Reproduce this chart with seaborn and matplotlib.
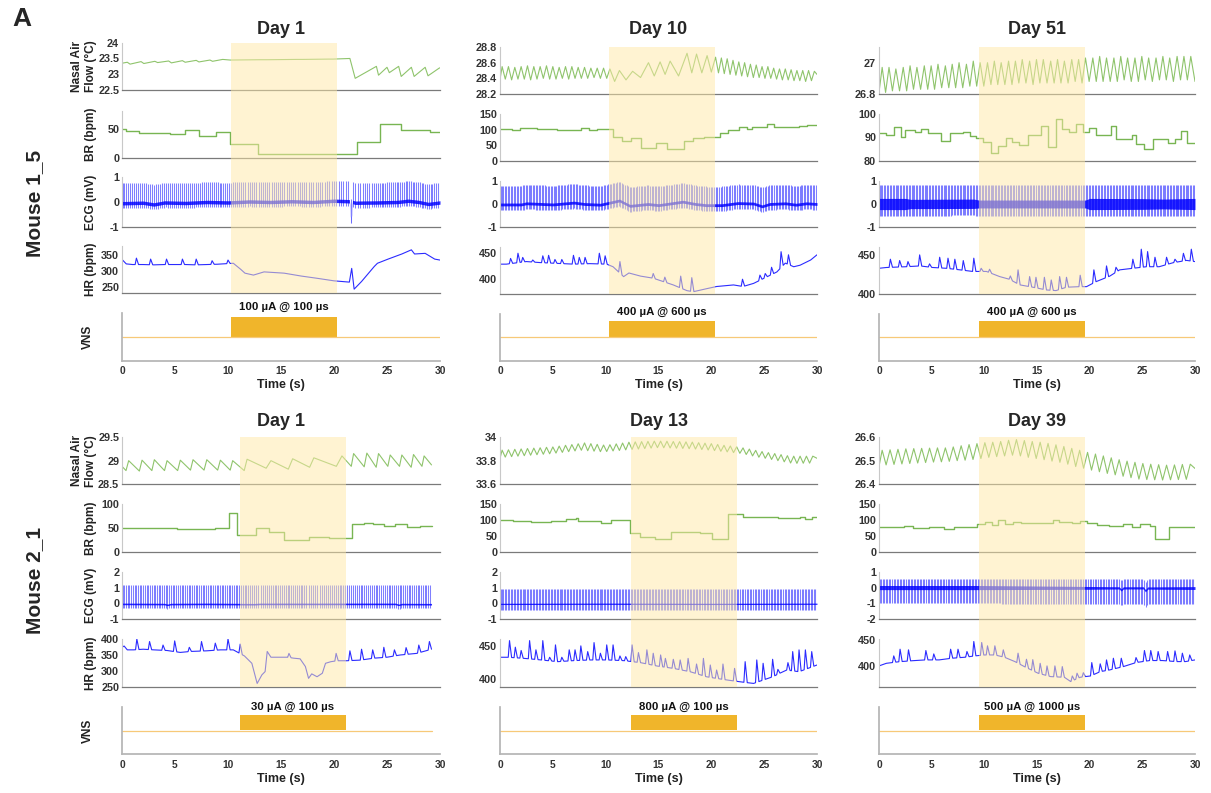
import numpy as np
import matplotlib
matplotlib.use("Agg")
import matplotlib.pyplot as plt
import seaborn as sns

# ==============================================================================
# 1. TRACES (time in seconds)
# ==============================================================================
# airflow: peak times / peak values / trough value just before each peak
# HR: slow trend + breathing spikes,  ECG: baseline centre + band half width

# ---- Mouse 1_5, Day 1 --------------------------------------------------------
m15_d1_stim = [10.25, 20.3]
m15_d1_air_pt = [0.5, 1.8, 3.1, 4.4, 5.7, 7.0, 8.3, 9.5, 13.0, 16.5, 19.5, 21.5,
                 24.0, 25.0, 26.1, 27.3, 28.6, 29.95]
m15_d1_air_pk = [23.38, 23.40, 23.41, 23.42, 23.43, 23.44, 23.45, 23.47, 23.46, 23.47,
                 23.48, 23.50, 23.25, 23.22, 23.25, 23.22, 23.22, 23.20]
m15_d1_air_tr = [23.35, 23.32, 23.34, 23.37, 23.36, 23.38, 23.39, 23.41, 23.45, 23.46,
                 23.47, 23.48, 22.87, 22.97, 23.05, 22.93, 22.93, 22.95]
m15_d1_air_ends = [23.42, 23.2]
m15_d1_br_t = [0, 0.4, 1.6, 4.5, 5.95, 7.3, 8.85, 10.2, 12.85, 22.15, 24.3, 26.35, 29.1, 30]
m15_d1_br_v = [49, 46, 43, 41.5, 47, 38, 44, 24, 6, 27, 58.5, 48, 44, 44]
m15_d1_hr_t = [0, 0.4, 1.0, 2.0, 3.0, 4.0, 5.0, 6.0, 7.0, 8.0, 9.0, 10.0, 10.5, 11.2, 11.6,
               12.4, 13.4, 15.3, 16.9, 18.4, 20.0, 21.45, 21.67, 21.9, 22.6, 23.8, 24.1,
               25.1, 26.4, 27.3, 27.6, 28.6, 29.5, 30]
m15_d1_hr_v = [337, 323, 321, 321, 320, 321, 321, 321, 320, 321, 322, 324, 325, 306, 294,
               288, 298, 294, 285, 278, 270, 266, 309, 244, 268, 315, 325,
               338, 354, 367, 354, 356, 338, 335]
m15_d1_hr_spk_t = [1.36, 2.7, 4.2, 5.7, 7.0, 8.5, 10.0]
m15_d1_hr_spk_v = [341, 338, 338, 338, 338, 333, 335]
m15_d1_ecg_t = [0, 2, 3, 4, 6, 8, 10, 12, 14, 16, 18, 20, 21.45, 21.6, 21.75, 22, 24, 26,
                27, 28, 28.9, 30]
m15_d1_ecg_v = [-0.05, -0.03, -0.1, -0.02, -0.04, 0.0, -0.02, 0.02, 0.0, 0.03, 0.0, 0.05,
                0.03, -0.85, 0.0, -0.03, -0.02, 0.0, 0.05, 0.0, -0.08, -0.02]
m15_d1_ecg_w = [0.07, 0.07, 0.07, 0.07, 0.07, 0.07, 0.07, 0.07, 0.07, 0.07, 0.07, 0.07,
                0.07, 0.02, 0.07, 0.07, 0.07, 0.07, 0.07, 0.07, 0.07, 0.07]
m15_d1_ecg_amp = [0.8, -0.2]

# ---- Mouse 1_5, Day 10 -------------------------------------------------------
m15_d10_stim = [10.3, 20.3]
m15_d10_air_pt = [0.2, 0.8, 1.4, 2.0, 2.6, 3.2, 3.8, 4.4, 5.0, 5.6, 6.2, 6.8, 7.4, 8.0, 8.6,
                  9.2, 9.8, 10.4, 11.3, 12.55, 14.05, 15.15, 16.1, 17.7, 18.6, 19.6, 20.4,
                  20.95, 21.5, 22.05, 22.6, 23.15, 23.7, 24.25, 24.8, 25.35, 25.9, 26.45,
                  27.0, 27.55, 28.1, 28.65, 29.2, 29.75]
m15_d10_air_pk = [28.55, 28.55, 28.54, 28.55, 28.56, 28.55, 28.55, 28.56, 28.55, 28.54,
                  28.55, 28.55, 28.54, 28.54, 28.53, 28.53, 28.53, 28.52, 28.50, 28.49,
                  28.60, 28.61, 28.62, 28.72, 28.71, 28.69, 28.67, 28.66, 28.65, 28.63,
                  28.61, 28.60, 28.58, 28.57, 28.55, 28.55, 28.53, 28.52, 28.52, 28.51,
                  28.50, 28.50, 28.50, 28.49]
m15_d10_air_tr = [28.40, 28.39, 28.38, 28.39, 28.39, 28.38, 28.39, 28.40, 28.39, 28.39,
                  28.40, 28.39, 28.40, 28.40, 28.40, 28.41, 28.40, 28.40, 28.36, 28.38,
                  28.41, 28.43, 28.45, 28.43, 28.47, 28.47, 28.48, 28.47, 28.46, 28.45,
                  28.44, 28.43, 28.42, 28.41, 28.41, 28.40, 28.40, 28.39, 28.38, 28.38,
                  28.37, 28.37, 28.36, 28.37]
m15_d10_air_ends = [28.47, 28.45]
m15_d10_br_t = [0, 1.1, 1.9, 3.5, 5.4, 7.3, 7.7, 8.4, 9.2, 10.7, 11.5, 12.4, 13.3, 14.8,
                15.85, 17.4, 18.3, 19.3, 20.8, 21.6, 22.6, 23.4, 23.85, 25.3, 25.9, 28.3,
                29.05, 30]
m15_d10_br_v = [103, 99, 104, 102, 100, 97.5, 104, 99, 102, 75, 63, 74, 41, 58, 36, 64, 72,
                77, 90, 99, 107, 101, 109, 118, 109, 111, 116, 116]
m15_d10_hr_t = [0, 0.6, 2.5, 3.8, 7.0, 8.5, 10.1, 10.7, 11.7, 12.2, 13.3, 14.5, 16.4, 17.7,
                18.3, 19.6, 20.5, 22.1, 23.0, 24.0, 25.3, 26.2, 27.0, 27.8, 28.4, 29.4, 30]
m15_d10_hr_v = [428, 428, 433, 431, 428, 429, 428, 423, 404, 411, 405, 401, 388, 377,
                375, 381, 385, 388, 385, 391, 404, 413, 430, 423, 426, 436, 446]
m15_d10_hr_spk_t = [1.0, 1.7, 2.15, 3.1, 4.05, 4.6, 5.2, 5.85, 6.95, 7.5, 8.05, 9.4, 9.95,
                    11.35, 14.5, 15.6, 17.1, 18.15, 22.95, 24.6, 25.1, 25.7, 26.6, 27.3]
m15_d10_hr_spk_v = [439, 449, 441, 436, 444, 445, 437, 437, 445, 441, 441, 449, 444,
                    433, 410, 403, 405, 402, 399, 407, 410, 422, 452, 446]
m15_d10_ecg_t = [0, 2, 2.5, 4, 5, 7, 8, 9.5, 11.3, 12.3, 14, 15, 17.3, 18.5, 19.5, 21, 22.5,
                 24, 24.8, 25.5, 27, 28, 29, 30]
m15_d10_ecg_v = [-0.02, -0.02, 0.03, 0.0, -0.02, 0.06, 0.0, -0.03, 0.15, -0.08, 0.0,
                 -0.05, 0.1, 0.0, -0.05, -0.05, 0.04, 0.02, -0.1, 0.0, 0.03, -0.03, 0.03, 0.0]
m15_d10_ecg_w = [0.06, 0.06, 0.06, 0.06, 0.06, 0.06, 0.06, 0.06, 0.06, 0.06, 0.06, 0.06,
                 0.06, 0.06, 0.06, 0.06, 0.06, 0.06, 0.06, 0.06, 0.06, 0.06, 0.06, 0.06]
m15_d10_ecg_amp = [0.8, -0.25]

# ---- Mouse 1_5, Day 51 -------------------------------------------------------
m15_d51_stim = [9.5, 19.6]
m15_d51_air_pt = [0.3, 0.95, 1.6, 2.3, 2.95, 3.6, 4.3, 4.95, 5.6, 6.3, 6.95, 7.6, 8.3, 8.95,
                  9.6, 10.3, 10.95, 11.6, 12.3, 12.95, 13.6, 14.3, 14.95, 15.6, 16.3, 16.95,
                  17.6, 18.3, 18.95, 19.6, 20.3, 20.95, 21.6, 22.3, 22.95, 23.6, 24.3, 24.95,
                  25.6, 26.3, 26.95, 27.6, 28.3, 28.95, 29.6]
m15_d51_air_pk = [26.97, 26.97, 26.96, 26.97, 26.98, 26.97, 26.98, 26.98, 26.99, 26.98,
                  26.99, 27.0, 26.99, 27.01, 27.0, 27.0, 27.01, 27.0, 27.01, 27.01, 27.02,
                  27.01, 27.02, 27.02, 27.01, 27.02, 27.01, 27.02, 27.02, 27.03, 27.03,
                  27.04, 27.03, 27.03, 27.04, 27.03, 27.03, 27.04, 27.03, 27.03, 27.04,
                  27.03, 27.04, 27.04, 27.04]
m15_d51_air_tr = [26.82, 26.81, 26.82, 26.82, 26.82, 26.83, 26.83, 26.83, 26.83, 26.84,
                  26.84, 26.84, 26.84, 26.85, 26.85, 26.85, 26.86, 26.86, 26.86, 26.86,
                  26.87, 26.87, 26.86, 26.87, 26.87, 26.87, 26.87, 26.87, 26.88, 26.87,
                  26.88, 26.88, 26.88, 26.88, 26.88, 26.89, 26.88, 26.88, 26.89, 26.88,
                  26.89, 26.89, 26.88, 26.89, 26.89]
m15_d51_air_ends = [26.9, 26.88]
m15_d51_br_t = [0, 0.7, 1.4, 2.05, 2.5, 3.4, 4.0, 4.65, 5.9, 6.7, 8.0, 8.6, 9.25, 9.9, 10.6,
                11.3, 12.1, 12.65, 13.3, 14.15, 15.4, 16.05, 16.8, 17.4, 18.0, 18.7, 19.4,
                19.95, 20.6, 22.0, 22.5, 23.2, 24.0, 24.4, 25.2, 26.0, 27.4, 28.1, 28.7,
                29.2, 30]
m15_d51_br_v = [91.7, 90.9, 94.5, 90.2, 93.1, 92.4, 93.4, 91.7, 88.5, 91.7, 92.1, 90.6,
                89.9, 88.1, 83.5, 86.3, 89.9, 88.2, 86.6, 91.2, 94.8, 85.9, 97.7, 93.5,
                92.2, 95.7, 92.4, 94.2, 90.9, 94.8, 89.1, 89.5, 90.9, 87.3, 84.9, 89.5,
                87.6, 89.5, 92.7, 87.6, 87.6]
m15_d51_hr_t = [0, 0.7, 2.6, 3.9, 5.1, 6.4, 7.7, 8.9, 10.2, 11.45, 12.4, 13.35, 14.6, 15.9,
                16.8, 17.8, 19.05, 19.7, 20.6, 21.9, 22.85, 24.1, 25.4, 26.6, 27.9, 29.2, 30]
m15_d51_hr_v = [433, 434, 435, 436, 434, 433, 431, 429, 429, 422.5, 419, 412, 409, 405.5,
                404.7, 409, 409.7, 409.7, 416, 423, 431, 433, 435, 435, 440, 443, 441.5]
m15_d51_hr_spk_t = [1.08, 1.96, 2.75, 3.86, 4.8, 5.76, 6.55, 7.2, 8.0, 9.0, 9.7, 10.5,
                    12.47, 13.2, 14.3, 14.9, 15.7, 16.35, 17.15, 17.8, 19.1, 20.4, 21.6,
                    22.5, 24.1, 24.9, 25.5, 26.2, 27.3, 28.1, 28.9, 29.65]
m15_d51_hr_spk_v = [444.5, 442.8, 441.5, 450, 438.6, 447, 445.8, 444.5, 442.8, 445.8, 433,
                    431.8, 423.3, 431, 422.5, 421.6, 421.6, 418.2, 422.5, 421.6, 424.2, 431,
                    436, 434.3, 444.5, 457.2, 454.2, 447, 447, 444.5, 452, 457.2]
m15_d51_ecg_t = [0, 2.5, 3, 9, 9.5, 19.6, 20, 25, 27, 30]
m15_d51_ecg_v = [0.0, 0.0, 0.0, 0.01, 0.0, 0.0, 0.0, 0.0, 0.0, 0.0]
m15_d51_ecg_w = [0.24, 0.24, 0.2, 0.2, 0.17, 0.17, 0.24, 0.23, 0.21, 0.24]
m15_d51_ecg_amp = [0.8, -0.5]

# ---- Mouse 2_1, Day 1 --------------------------------------------------------
m21_d1_stim = [11.1, 21.1]
m21_d1_air_pt = [0.63, 1.89, 3.05, 4.25, 5.5, 6.7, 8.0, 9.28, 10.44, 11.8, 14.05, 16.1,
                 18.1, 20.75, 21.85, 23.1, 24.2, 25.3, 26.4, 27.5, 28.5]
m21_d1_air_pk = [29.0, 29.01, 29.02, 29.0, 29.01, 29.02, 29.02, 29.01, 29.0, 29.03, 29.0,
                 29.04, 29.06, 29.1, 29.15, 29.16, 29.15, 29.12, 29.12, 29.13, 29.1]
m21_d1_air_tr = [28.79, 28.78, 28.79, 28.79, 28.79, 28.8, 28.8, 28.8, 28.8, 28.79, 28.84,
                 28.82, 28.86, 28.88, 28.88, 28.87, 28.86, 28.88, 28.88, 28.86, 28.88]
m21_d1_air_ends = [28.88, 28.91]
m21_d1_br_t = [0, 2.5, 5.2, 7.55, 8.8, 10.1, 10.85, 12.6, 13.85, 15.25, 17.6, 19.5, 21.7,
               22.8, 23.7, 24.7, 25.8, 26.9, 28.1, 29.2]
m21_d1_br_v = [49.3, 50.7, 47.2, 47.9, 49.3, 82.4, 35.2, 49.3, 42.3, 24.6, 31.7, 29.6,
               58.5, 61.3, 58.5, 54.2, 57.7, 52.8, 55, 55]
m21_d1_hr_t = [0, 0.2, 0.5, 1.1, 2.0, 3.0, 4.25, 5.5, 6.45, 8.0, 9.3, 10.5, 11.55, 12.25,
               12.75, 13.2, 13.5, 13.7, 14.05, 14.9, 15.6, 16.2, 16.8, 17.3, 17.6, 17.9,
               18.4, 18.9, 19.2, 19.7, 20.3, 21.2, 22.5, 23.75, 25.0, 26.25, 27.8, 29.2]
m21_d1_hr_v = [375, 379, 367, 367, 369, 367, 365, 359, 362, 364, 367, 367, 348, 325,
               262, 289, 299, 362, 344, 344, 344, 341, 339, 315, 278, 292,
               283, 294, 325, 330, 333, 333, 335, 341, 344, 351, 356, 369]
m21_d1_hr_spk_t = [1.4, 2.6, 3.87, 4.97, 6.35, 7.5, 8.8, 10.0, 11.15, 15.75, 20.2, 21.5,
                   22.6, 23.65, 24.7, 25.7, 26.8, 28.0, 29.0]
m21_d1_hr_spk_v = [401, 393, 382, 395, 375, 393, 388, 401, 385, 356, 356, 364, 369, 367,
                   375, 367, 374, 382, 393]
m21_d1_ecg_t = [0, 4, 4.3, 4.6, 8, 12.5, 13, 20, 25.8, 26.1, 26.4, 29.2]
m21_d1_ecg_v = [-0.03, -0.04, -0.09, -0.04, -0.03, -0.05, -0.03, -0.03, -0.03, -0.09,
                -0.04, -0.05]
m21_d1_ecg_w = [0.05, 0.05, 0.05, 0.05, 0.05, 0.05, 0.05, 0.05, 0.05, 0.05, 0.05, 0.05]
m21_d1_ecg_amp = [1.22, -0.25]

# ---- Mouse 2_1, Day 13 -------------------------------------------------------
m21_d13_stim = [12.4, 22.4]
m21_d13_air_pt = [0.2, 0.8, 1.4, 2.0, 2.6, 3.2, 3.8, 4.4, 5.0, 5.6, 6.2, 6.8, 7.4, 8.0, 8.6,
                  9.2, 9.8, 10.4, 11.0, 11.6, 12.2, 12.8, 13.4, 14.0, 14.6, 15.2, 15.8,
                  16.4, 17.0, 17.6, 18.2, 18.8, 19.4, 20.0, 20.6, 21.2, 21.8, 22.4, 23.0,
                  23.6, 24.2, 24.8, 25.4, 26.0, 26.6, 27.2, 27.8, 28.4, 29.0, 29.6]
m21_d13_air_pk = [33.889, 33.892, 33.896, 33.899, 33.903, 33.906, 33.909, 33.913, 33.916,
                  33.923, 33.930, 33.936, 33.943, 33.950, 33.944, 33.938, 33.932, 33.935,
                  33.942, 33.949, 33.956, 33.959, 33.961, 33.963, 33.965, 33.965, 33.964,
                  33.962, 33.961, 33.959, 33.957, 33.952, 33.948, 33.944, 33.937, 33.930,
                  33.924, 33.917, 33.908, 33.898, 33.887, 33.877, 33.868, 33.860, 33.851,
                  33.842, 33.838, 33.838, 33.838, 33.838]
m21_d13_air_tr = [33.826, 33.830, 33.834, 33.838, 33.842, 33.846, 33.850, 33.854, 33.858,
                  33.864, 33.870, 33.876, 33.882, 33.888, 33.884, 33.880, 33.876, 33.877,
                  33.882, 33.886, 33.891, 33.895, 33.898, 33.902, 33.906, 33.910, 33.909,
                  33.907, 33.905, 33.903, 33.901, 33.898, 33.894, 33.890, 33.885, 33.879,
                  33.874, 33.868, 33.862, 33.852, 33.840, 33.829, 33.820, 33.810, 33.800,
                  33.790, 33.780, 33.777, 33.778, 33.779]
m21_d13_air_ends = [33.84, 33.82]
m21_d13_br_t = [0, 1.2, 2.9, 4.8, 6.25, 7.2, 7.35, 9.55, 10.5, 12.3, 13.25, 14.7, 16.2,
                18.9, 20.05, 21.6, 23.0, 24.3, 26.3, 28.4, 28.9, 29.5, 30]
m21_d13_br_v = [100, 98, 95, 98, 102, 106, 98, 92, 100, 58, 45, 40, 62, 60, 40, 119, 109,
                109, 106, 109, 103.5, 111, 111]
m21_d13_hr_t = [0, 0.75, 2.3, 3.9, 5.45, 7.0, 8.6, 10.15, 11.7, 13.3, 14.85, 16.4, 18.0,
                19.55, 21.1, 22.7, 24.0, 24.9, 25.8, 27.1, 28.3, 30]
m21_d13_hr_v = [432.7, 432.7, 431, 428.6, 426, 427.6, 428.6, 428.6, 427.6, 424.5, 419.4,
                415.8, 410.7, 403, 399, 395.4, 392.9, 398, 403, 413.3, 410.7, 420.9]
m21_d13_hr_spk_t = [0.9, 1.45, 2.0, 2.8, 3.4, 4.05, 4.7, 5.25, 5.85, 6.55, 7.1, 7.65, 8.3,
                    8.9, 9.5, 10.1, 10.7, 11.35, 11.9, 12.5, 13.1, 13.9, 14.5, 15.2, 15.65,
                    16.4, 17.05, 17.8, 18.6, 19.25, 19.9, 20.5, 21.1, 22.2, 23.2, 24.3,
                    24.9, 25.8, 26.3, 27.25, 27.7, 28.3, 28.9, 29.5]
m21_d13_hr_spk_v = [458, 448, 443, 458, 444, 458, 432.7, 451.5, 432.7, 444, 444, 450,
                    441.3, 455, 438.8, 451.5, 451.5, 434.7, 433.7, 451.5, 439.8, 444,
                    438.8, 436.2, 431, 429.6, 428.6, 431, 422.4, 431, 420.9, 413.3, 422.4,
                    415.8, 426, 428.6, 423.5, 429.6, 414.3, 424.5, 441.3, 443.9, 443.9,
                    441.3]
m21_d13_ecg_t = [0, 10, 20, 30]
m21_d13_ecg_v = [-0.03, -0.02, -0.03, -0.02]
m21_d13_ecg_w = [0.04, 0.04, 0.04, 0.04]
m21_d13_ecg_amp = [0.95, -0.38]

# ---- Mouse 2_1, Day 39 -------------------------------------------------------
m21_d39_stim = [9.5, 19.6]
m21_d39_air_pt = [0.3, 1.05, 1.8, 2.55, 3.3, 4.05, 4.8, 5.55, 6.3, 7.05, 7.8, 8.55, 9.3,
                  10.05, 10.8, 11.55, 12.3, 13.05, 13.8, 14.55, 15.3, 16.05, 16.8, 17.55,
                  18.3, 19.05, 19.8, 20.55, 21.3, 22.05, 22.8, 23.55, 24.3, 25.05, 25.8,
                  26.55, 27.3, 28.05, 28.8, 29.55]
m21_d39_air_pk = [26.544, 26.546, 26.548, 26.550, 26.551, 26.552, 26.553, 26.554, 26.554,
                  26.558, 26.563, 26.568, 26.572, 26.576, 26.578, 26.581, 26.586, 26.589,
                  26.585, 26.581, 26.578, 26.573, 26.567, 26.560, 26.552, 26.544, 26.535,
                  26.528, 26.520, 26.512, 26.504, 26.498, 26.493, 26.488, 26.485, 26.483,
                  26.481, 26.482, 26.484, 26.485]
m21_d39_air_tr = [26.480, 26.482, 26.484, 26.486, 26.488, 26.490, 26.492, 26.494, 26.495,
                  26.497, 26.500, 26.502, 26.505, 26.509, 26.514, 26.517, 26.520, 26.523,
                  26.520, 26.514, 26.509, 26.504, 26.498, 26.493, 26.485, 26.475, 26.468,
                  26.460, 26.453, 26.446, 26.440, 26.434, 26.428, 26.422, 26.420, 26.419,
                  26.418, 26.419, 26.420, 26.421]
m21_d39_air_ends = [26.505, 26.467]
m21_d39_br_t = [0, 1.6, 2.4, 3.2, 4.75, 6.2, 7.1, 9.3, 10.05, 10.7, 11.3, 11.95, 12.7,
                13.5, 16.5, 17.1, 18.35, 19.1, 19.7, 20.7, 21.8, 23.2, 24.0, 24.75, 25.7,
                26.2, 27.5, 28.8, 30]
m21_d39_br_v = [77, 77, 81, 75, 79, 73, 79, 87.6, 93, 83.4, 100, 87.6, 93, 92, 100, 94,
                89.8, 98.2, 89.8, 83.4, 81.3, 86.6, 79.2, 87.6, 81.3, 39, 77, 79.2, 79.2]
m21_d39_hr_t = [0, 0.7, 1.9, 3.2, 4.4, 5.7, 6.9, 8.2, 9.1, 10.05, 11.0, 11.9, 12.9, 13.8,
                15.1, 16.3, 17.6, 18.2, 19.1, 20.1, 21.0, 21.9, 23.2, 24.4, 25.7, 26.9,
                28.2, 29.1, 30]
m21_d39_hr_v = [400, 405, 408, 410, 411.5, 411.5, 414.7, 416.7, 419.2, 421, 421, 416.7,
                408.3, 398.7, 386, 379.5, 378.2, 370, 378.2, 380.8, 389, 392.3, 398.7,
                406.4, 410.3, 410.3, 408.3, 408.3, 411.5]
m21_d39_hr_spk_t = [1.4, 2.0, 2.8, 4.45, 5.2, 6.8, 7.5, 8.35, 9.0, 9.75, 10.3, 11.0, 11.8,
                    13.2, 14.0, 14.6, 15.3, 15.95, 16.7, 17.4, 18.35, 18.8, 19.4, 20.2,
                    21.0, 21.6, 22.25, 23.0, 24.4, 25.2, 25.8, 26.5, 27.4, 28.1, 28.8, 29.5]
m21_d39_hr_spk_v = [419.2, 432, 430.8, 429.5, 423, 432, 432, 427.6, 446.8, 444.9, 438.5,
                    438.5, 430.8, 424.4, 412.8, 412, 405, 400, 400, 398.7, 380.8, 386, 387,
                    406.4, 404, 411.5, 414.7, 414.7, 416, 429.5, 429.5, 427.6, 427.6,
                    428.8, 424.4, 421]
m21_d39_ecg_t = [0, 9.5, 19.7, 22.8, 23.0, 23.2, 25.1, 25.3, 25.5, 30]
m21_d39_ecg_v = [0.0, 0.0, -0.02, -0.02, -0.15, -0.02, -0.02, -0.2, -0.03, -0.03]
m21_d39_ecg_w = [0.13, 0.13, 0.09, 0.07, 0.07, 0.07, 0.07, 0.07, 0.07, 0.09]
m21_d39_ecg_amp = [0.55, -1.0]

time_ticks = [0, 5, 10, 15, 20, 25, 30]

# ==============================================================================
# 2. PANEL TABLE (one column per recording day)
# ==============================================================================
panels = [
    dict(row=0, col=0, title="Day 1", stim=m15_d1_stim, vns="100 µA @ 100 µs", t_end=30,
         air=(m15_d1_air_pt, m15_d1_air_pk, m15_d1_air_tr, m15_d1_air_ends), frac=0.8,
         br=(m15_d1_br_t, m15_d1_br_v),
         hr=(m15_d1_hr_t, m15_d1_hr_v, m15_d1_hr_spk_t, m15_d1_hr_spk_v),
         ecg=(m15_d1_ecg_t, m15_d1_ecg_v, m15_d1_ecg_w, m15_d1_ecg_amp),
         air_lim=(22.5, 24), air_ticks=[22.5, 23, 23.5, 24],
         br_lim=(0, 80), br_ticks=[0, 50], ecg_lim=(-1, 1), ecg_ticks=[-1, 0, 1],
         hr_lim=(231, 379), hr_ticks=[250, 300, 350], bar_h=0.82, txt_y=1.22),
    dict(row=0, col=1, title="Day 10", stim=m15_d10_stim, vns="400 µA @ 600 µs", t_end=30,
         air=(m15_d10_air_pt, m15_d10_air_pk, m15_d10_air_tr, m15_d10_air_ends), frac=0.5,
         br=(m15_d10_br_t, m15_d10_br_v),
         hr=(m15_d10_hr_t, m15_d10_hr_v, m15_d10_hr_spk_t, m15_d10_hr_spk_v),
         ecg=(m15_d10_ecg_t, m15_d10_ecg_v, m15_d10_ecg_w, m15_d10_ecg_amp),
         air_lim=(28.2, 28.8), air_ticks=[28.2, 28.4, 28.6, 28.8],
         br_lim=(0, 150), br_ticks=[0, 50, 100, 150], ecg_lim=(-1, 1), ecg_ticks=[-1, 0, 1],
         hr_lim=(370, 461), hr_ticks=[400, 450], bar_h=0.7, txt_y=1.07),
    dict(row=0, col=2, title="Day 51", stim=m15_d51_stim, vns="400 µA @ 600 µs", t_end=30,
         air=(m15_d51_air_pt, m15_d51_air_pk, m15_d51_air_tr, m15_d51_air_ends), frac=0.5,
         br=(m15_d51_br_t, m15_d51_br_v),
         hr=(m15_d51_hr_t, m15_d51_hr_v, m15_d51_hr_spk_t, m15_d51_hr_spk_v),
         ecg=(m15_d51_ecg_t, m15_d51_ecg_v, m15_d51_ecg_w, m15_d51_ecg_amp),
         air_lim=(26.8, 27.1), air_ticks=[26.8, 27],
         br_lim=(80, 100), br_ticks=[80, 90, 100], ecg_lim=(-1, 1), ecg_ticks=[-1, 0, 1],
         hr_lim=(400, 460), hr_ticks=[400, 450], bar_h=0.7, txt_y=1.1),
    dict(row=1, col=0, title="Day 1", stim=m21_d1_stim, vns="30 µA @ 100 µs", t_end=29.2,
         air=(m21_d1_air_pt, m21_d1_air_pk, m21_d1_air_tr, m21_d1_air_ends), frac=0.2,
         br=(m21_d1_br_t, m21_d1_br_v),
         hr=(m21_d1_hr_t, m21_d1_hr_v, m21_d1_hr_spk_t, m21_d1_hr_spk_v),
         ecg=(m21_d1_ecg_t, m21_d1_ecg_v, m21_d1_ecg_w, m21_d1_ecg_amp),
         air_lim=(28.5, 29.5), air_ticks=[28.5, 29, 29.5],
         br_lim=(0, 100), br_ticks=[0, 50, 100], ecg_lim=(-1, 2), ecg_ticks=[-1, 0, 1, 2],
         hr_lim=(250, 400), hr_ticks=[250, 300, 350, 400], bar_h=0.65, txt_y=1.0),
    dict(row=1, col=1, title="Day 13", stim=m21_d13_stim, vns="800 µA @ 100 µs", t_end=30,
         air=(m21_d13_air_pt, m21_d13_air_pk, m21_d13_air_tr, m21_d13_air_ends), frac=0.5,
         br=(m21_d13_br_t, m21_d13_br_v),
         hr=(m21_d13_hr_t, m21_d13_hr_v, m21_d13_hr_spk_t, m21_d13_hr_spk_v),
         ecg=(m21_d13_ecg_t, m21_d13_ecg_v, m21_d13_ecg_w, m21_d13_ecg_amp),
         air_lim=(33.6, 34), air_ticks=[33.6, 33.8, 34],
         br_lim=(0, 150), br_ticks=[0, 50, 100, 150], ecg_lim=(-1, 2), ecg_ticks=[-1, 0, 1, 2],
         hr_lim=(387, 460), hr_ticks=[400, 450], bar_h=0.65, txt_y=1.0),
    dict(row=1, col=2, title="Day 39", stim=m21_d39_stim, vns="500 µA @ 1000 µs", t_end=30,
         air=(m21_d39_air_pt, m21_d39_air_pk, m21_d39_air_tr, m21_d39_air_ends), frac=0.5,
         br=(m21_d39_br_t, m21_d39_br_v),
         hr=(m21_d39_hr_t, m21_d39_hr_v, m21_d39_hr_spk_t, m21_d39_hr_spk_v),
         ecg=(m21_d39_ecg_t, m21_d39_ecg_v, m21_d39_ecg_w, m21_d39_ecg_amp),
         air_lim=(26.4, 26.6), air_ticks=[26.4, 26.5, 26.6],
         br_lim=(0, 150), br_ticks=[0, 50, 100, 150], ecg_lim=(-2, 1), ecg_ticks=[-2, -1, 0, 1],
         hr_lim=(359, 451), hr_ticks=[400, 450], bar_h=0.65, txt_y=1.0),
]

# pixel layout of the original figure
W, H = 1211, 793
col_x = [(122, 440), (500, 817), (879, 1195)]
tops = {(0, 0): [42.7, 111, 177.3, 246, 312.7], (0, 1): [47, 114, 180.7, 247, 314],
        (0, 2): [47, 114, 180.7, 247, 314]}
bots = {(0, 0): [90, 158, 226.7, 293.3, 360.7], (0, 1): [94, 160.7, 227.3, 294.3, 360.7],
        (0, 2): [94, 160.7, 227.3, 294.3, 360.7]}
for c in range(3):
    tops[(1, c)] = [437, 504.3, 571.7, 639.3, 706.7]
    bots[(1, c)] = [484.3, 551.7, 619.3, 687.3, 754.3]
title_y = {0: [29, 30, 30], 1: [421.7, 421.7, 421.7]}

C_AIR, C_BR = "#8fc46c", "#78b552"
C_ECG, C_HR = "#0000ff", "#2b2bff"
C_BAR, C_BASE = "#f0b52b", "#f7c978"
C_SHADE = "#ffe9a6"


# ==============================================================================
# 3. HELPERS
# ==============================================================================
def air_curve(pt, pk, tr, ends, frac, t_end):
    xs, ys = [0.0], [ends[0]]
    for i, (p, a, b) in enumerate(zip(pt, pk, tr)):
        gap = (p - pt[i - 1]) if i > 0 else (pt[1] - pt[0])
        tt = max(p - frac * gap, xs[-1] + 0.02)
        xs += [tt, p]
        ys += [b, a]
    xs.append(t_end)
    ys.append(ends[1])
    return np.array(xs), np.array(ys)


def hr_curve(tt, tv, st, sv, pre=0.12, post=0.2):
    tt = np.asarray(tt, float)
    tv = np.asarray(tv, float)
    keep = np.ones(len(tt), bool)
    for s in st:
        keep &= ~((tt > s - pre - 0.03) & (tt < s + post + 0.03))
    xs, ys = list(tt[keep]), list(tv[keep])
    for s, v in zip(st, sv):
        xs += [s - pre, s, s + post]
        ys += [np.interp(s - pre, tt, tv), v, np.interp(s + post, tt, tv)]
    o = np.argsort(xs, kind="stable")
    return np.asarray(xs)[o], np.asarray(ys)[o]


def beat_times(tt, tv, t_end):
    # R-peaks follow the measured heart rate
    out, t = [], 0.05
    while t < t_end:
        out.append(t)
        t += 60.0 / np.interp(t, tt, tv)
    return np.array(out)


def trace(ax, x, y, color, lw, steps=False):
    kw = dict(drawstyle="steps-post") if steps else {}
    sns.lineplot(x=x, y=y, ax=ax, color=color, linewidth=lw, sort=False,
                 estimator=None, errorbar=None, legend=False, **kw)


def style_signal(ax, lim, ticks):
    ax.set_xlim(0, 30)
    ax.set_ylim(*lim)
    ax.set_yticks(ticks)
    ax.set_yticklabels([f"{t:g}" for t in ticks])
    ax.set_xticks([])
    ax.set_xlabel("")
    ax.set_ylabel("")
    for s in ["top", "right"]:
        ax.spines[s].set_visible(False)
    ax.spines["left"].set_color("#c8c8c8")
    ax.spines["bottom"].set_color("#7a7a7a")
    ax.spines["left"].set_linewidth(0.8)
    ax.spines["bottom"].set_linewidth(0.9)
    ax.tick_params(axis="y", length=0, pad=2, labelsize=7.8, labelcolor="#333333")
    ax.patch.set_alpha(0)


# ==============================================================================
# 4. DRAW
# ==============================================================================
sns.set_theme(style="white")
plt.rcParams["font.family"] = ["Liberation Sans", "DejaVu Sans"]
plt.rcParams["font.weight"] = "bold"
plt.rcParams["axes.labelweight"] = "bold"

fig = plt.figure(figsize=(W / 100, H / 100), dpi=100)


def add_ax(x0, x1, top, bot):
    return fig.add_axes([x0 / W, 1 - bot / H, (x1 - x0) / W, (bot - top) / H])


ylabels = ["Nasal Air\nFlow (°C)", "BR (bpm)", "ECG (mV)", "HR (bpm)", "VNS"]

for p in panels:
    r, c = p["row"], p["col"]
    x0, x1 = col_x[c]
    tp, bt = tops[(r, c)], bots[(r, c)]
    axs = [add_ax(x0, x1, tp[k], bt[k]) for k in range(5)]
    t_end = p["t_end"]

    # nasal air flow
    ax = axs[0]
    ax_x, ax_y = air_curve(*p["air"], p["frac"], t_end)
    trace(ax, ax_x, ax_y, C_AIR, 0.8)
    style_signal(ax, p["air_lim"], p["air_ticks"])

    # breathing rate
    ax = axs[1]
    trace(ax, np.array(p["br"][0], float), np.array(p["br"][1], float), C_BR, 1.0, steps=True)
    style_signal(ax, p["br_lim"], p["br_ticks"])

    # ECG
    ax = axs[2]
    e_t, e_v, e_w, e_amp = p["ecg"]
    e_t, e_v, e_w = (np.asarray(a, float) for a in (e_t, e_v, e_w))
    beats = beat_times(p["hr"][0], p["hr"][1], t_end)
    base = np.interp(beats, e_t, e_v)
    ax.vlines(beats, base + e_amp[1], base + e_amp[0], color=C_ECG, alpha=0.5, lw=0.75)
    ax.fill_between(e_t, e_v - e_w, e_v + e_w, color=C_ECG, lw=0, alpha=0.82)
    style_signal(ax, p["ecg_lim"], p["ecg_ticks"])

    # heart rate
    ax = axs[3]
    h_x, h_y = hr_curve(*p["hr"])
    trace(ax, h_x, h_y, C_HR, 0.8)
    style_signal(ax, p["hr_lim"], p["hr_ticks"])

    # VNS timing
    ax = axs[4]
    on, off = p["stim"]
    ax.plot([0, t_end], [0, 0], color=C_BASE, lw=0.9)
    ax.fill_between([on, off], 0, p["bar_h"], color=C_BAR, lw=0)
    ax.text((on + off) / 2, p["txt_y"], p["vns"], ha="center", va="center",
            fontsize=8.2, fontweight="bold", color="#111111", clip_on=False)
    ax.set_xlim(0, 30)
    ax.set_ylim(-1, 1)
    ax.set_yticks([])
    ax.set_xticks(time_ticks)
    ax.set_xticklabels([str(t) for t in time_ticks])
    for s in ["top", "right"]:
        ax.spines[s].set_visible(False)
    ax.spines["left"].set_color("#b5b5b5")
    ax.spines["bottom"].set_color("#b5b5b5")
    ax.tick_params(axis="x", length=0, pad=4, labelsize=7.4, labelcolor="#333333")
    ax.patch.set_alpha(0)

    if c == 0:
        for k, a in enumerate(axs):
            a.set_ylabel(ylabels[k], fontsize=8.6, fontweight="bold", color="#222222",
                         linespacing=1.25)
            a.yaxis.set_label_coords(-0.079 if k < 4 else -0.088, 0.5)

    # stimulation window drawn over the four signal traces
    ov = add_ax(x0, x1, tp[0], bt[3])
    ov.set_xlim(0, 30)
    ov.set_ylim(0, 1)
    ov.axis("off")
    ov.axvspan(on, off, color=C_SHADE, alpha=0.5, lw=0)

    fig.text((x0 + x1) / 2 / W, 1 - title_y[r][c] / H, p["title"], ha="center", va="center",
             fontsize=13, fontweight="bold")
    fig.text((x0 + x1) / 2 / W, 1 - (bt[4] + 24.5) / H, "Time (s)", ha="center",
             va="center", fontsize=9, fontweight="bold", color="#222222")

fig.text(35 / W, 1 - 203 / H, "Mouse 1_5", rotation=90, ha="center", va="center",
         fontsize=15, fontweight="bold")
fig.text(35 / W, 1 - 580 / H, "Mouse 2_1", rotation=90, ha="center", va="center",
         fontsize=15, fontweight="bold")
fig.text(22 / W, 1 - 19 / H, "A", ha="center", va="center", fontsize=19, fontweight="bold")

fig.savefig("out.png", dpi=100)
